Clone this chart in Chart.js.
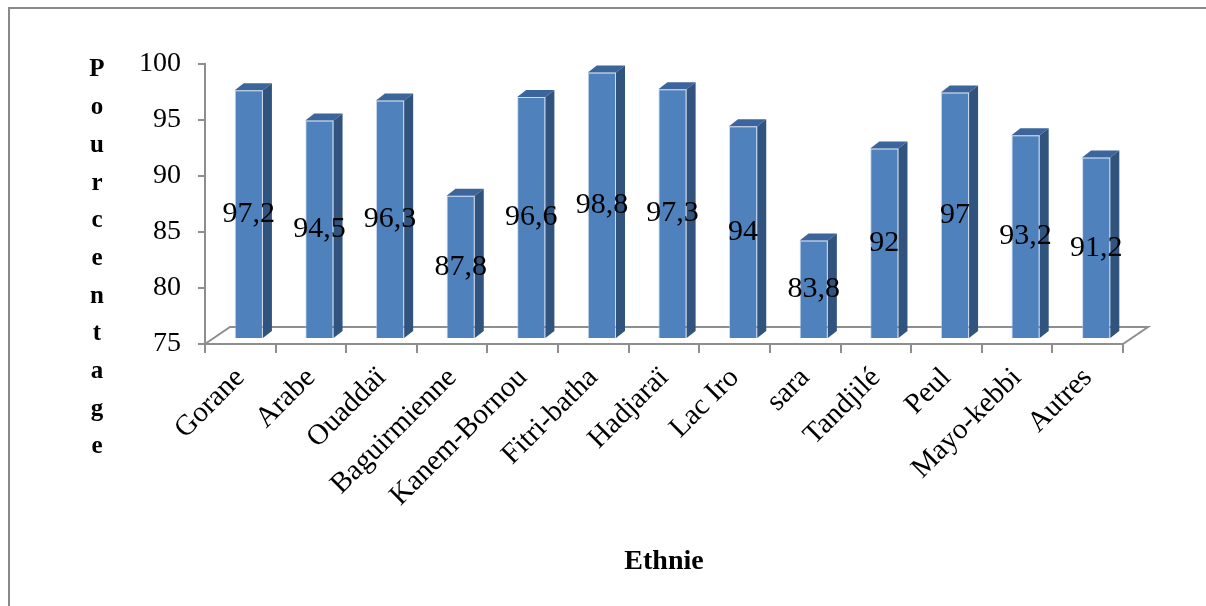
<!DOCTYPE html>
<html>
<head>
<meta charset="utf-8">
<script src="https://cdn.jsdelivr.net/npm/chart.js@4.4.0/dist/chart.umd.min.js"></script>
<style>
  html, body { margin: 0; padding: 0; background: #fff; }
  #wrap { width: 1206px; height: 606px; }
</style>
</head>
<body>
<div id="wrap"><canvas id="chart" width="1206" height="606"></canvas></div>
<script>
// Data
const categories = ['Gorane', 'Arabe', 'Ouaddaï', 'Baguirmienne', 'Kanem-Bornou', 'Fitri-batha', 'Hadjaraï', 'Lac Iro', 'sara', 'Tandjilé', 'Peul', 'Mayo-kebbi', 'Autres'];
const percentages = [97.2, 94.5, 96.3, 87.8, 96.6, 98.8, 97.3, 94, 83.8, 92, 97, 93.2, 91.2];
const yTicks = [75, 80, 85, 90, 95, 100];
const yTitle = 'Pourcentage';
const xTitle = 'Ethnie';

const SERIF = "'Liberation Serif', 'Times New Roman', serif";
const AXIS_GRAY = '#8e8e8e';

// fake 3D: floor depth, bar extrusion and how far bars sit inside the floor
const FLOOR_DX = 25, FLOOR_DY = 17;
const BAR_DX = 9, BAR_DY = 7;
const SHIFT_X = 8.5, SHIFT_Y = 5;

const frameAndFloor = {
    id: 'frameAndFloor',
    beforeDraw(chart) {
        const ctx = chart.ctx;
        ctx.save();
        ctx.strokeStyle = '#8a8a8a';
        ctx.lineWidth = 2;
        ctx.strokeRect(9, 8, 1400, 800);
        ctx.restore();
    },
    beforeDatasetsDraw(chart) {
        const { ctx, chartArea: a } = chart;
        ctx.save();
        ctx.strokeStyle = AXIS_GRAY;
        ctx.lineWidth = 2;
        ctx.beginPath();
        ctx.moveTo(a.left, a.bottom);
        ctx.lineTo(a.left + FLOOR_DX, a.bottom - FLOOR_DY);
        ctx.lineTo(a.right + FLOOR_DX, a.bottom - FLOOR_DY);
        ctx.lineTo(a.right, a.bottom);
        ctx.stroke();
        ctx.restore();
        // bars stand a bit behind the front edge of the floor
        ctx.save();
        ctx.translate(SHIFT_X, -SHIFT_Y);
    },
    afterDatasetsDraw(chart) {
        const ctx = chart.ctx;
        const bars = chart.getDatasetMeta(0).data;
        bars.forEach(bar => {
            const { x, y, base, width } = bar.getProps(['x', 'y', 'base', 'width'], true);
            const l = x - width / 2, r = x + width / 2;
            // top face
            ctx.fillStyle = '#3c659b';
            ctx.beginPath();
            ctx.moveTo(l, y);
            ctx.lineTo(l + BAR_DX, y - BAR_DY);
            ctx.lineTo(r + BAR_DX, y - BAR_DY);
            ctx.lineTo(r, y);
            ctx.closePath();
            ctx.fill();
            // side face
            ctx.fillStyle = '#31547f';
            ctx.beginPath();
            ctx.moveTo(r, y);
            ctx.lineTo(r + BAR_DX, y - BAR_DY);
            ctx.lineTo(r + BAR_DX, base - BAR_DY);
            ctx.lineTo(r, base);
            ctx.closePath();
            ctx.fill();
        });
        // value labels in the middle of each bar
        ctx.fillStyle = '#000';
        ctx.font = '30px ' + SERIF;
        ctx.textAlign = 'center';
        ctx.textBaseline = 'middle';
        bars.forEach((bar, i) => {
            const { x, y, base } = bar.getProps(['x', 'y', 'base'], true);
            ctx.fillText(String(percentages[i]).replace('.', ','), x, (y + base) / 2);
        });
        ctx.restore();
    },
    afterDraw(chart) {
        // vertical stacked title of the value axis
        const ctx = chart.ctx;
        ctx.save();
        ctx.fillStyle = '#000';
        ctx.font = 'bold 25px ' + SERIF;
        ctx.textAlign = 'center';
        ctx.textBaseline = 'middle';
        [...yTitle].forEach((ch, i) => ctx.fillText(ch, 97, 70 + i * 37.7));
        ctx.restore();
    }
};

new Chart(document.getElementById('chart'), {
    type: 'bar',
    data: {
        labels: categories,
        datasets: [{
            data: percentages,
            base: yTicks[0],
            backgroundColor: '#4f81bd',
            borderColor: 'rgba(170,195,228,0.6)',
            borderWidth: 1,
            categoryPercentage: 1,
            barPercentage: 0.4
        }]
    },
    options: {
        responsive: false,
        animation: false,
        devicePixelRatio: 1,
        layout: { padding: { left: 120, right: 83, top: 64, bottom: 0 } },
        plugins: { legend: { display: false }, tooltip: { enabled: false } },
        scales: {
            y: {
                min: 75, max: 100,
                afterBuildTicks: s => { s.ticks = yTicks.map(v => ({ value: v })); },
                afterFit: s => { s.width = 85; },
                ticks: { color: '#000', font: { family: SERIF, size: 28 }, padding: 17 },
                grid: { drawOnChartArea: false, tickLength: 7, color: AXIS_GRAY, lineWidth: 2 },
                border: { display: true, color: AXIS_GRAY, width: 2 }
            },
            x: {
                afterFit: s => { s.height = 262; },
                ticks: { color: '#000', font: { family: SERIF, size: 29 }, minRotation: 45, maxRotation: 45, padding: 8, autoSkip: false },
                grid: { offset: true, drawOnChartArea: false, tickLength: 9, color: AXIS_GRAY, lineWidth: 2 },
                border: { display: true, color: AXIS_GRAY, width: 2 },
                title: {
                    display: true, text: xTitle, color: '#000',
                    font: { family: SERIF, size: 28, weight: 'bold' },
                    padding: { top: 0, bottom: 27 }
                }
            }
        }
    },
    plugins: [frameAndFloor]
});
</script>
</body>
</html>
